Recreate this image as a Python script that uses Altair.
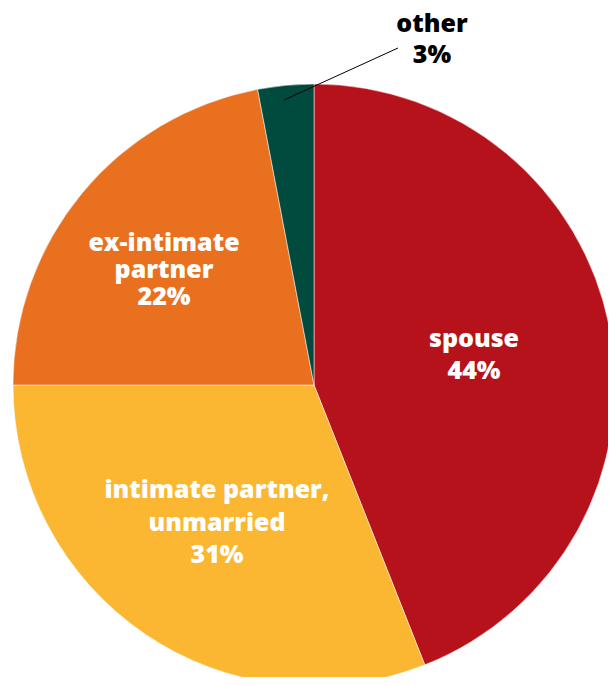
import altair as alt
import pandas as pd

categories = ["spouse", "intimate partner, unmarried", "ex-intimate partner", "other"]
values = [44, 31, 22, 3]
colors = ["#B5121B", "#FBB731", "#E8701F", "#004B3D"]

df = pd.DataFrame({"category": categories, "value": values, "order": list(range(len(categories)))})

FONT = "Open Sans"

pie = alt.Chart(df).mark_arc(outerRadius=301, stroke="white", strokeWidth=0.5).encode(
    theta=alt.Theta("value:Q", stack=True),
    order=alt.Order("order:Q"),
    color=alt.Color("category:N", scale=alt.Scale(domain=categories, range=colors), legend=None),
    x=alt.value(306),
    y=alt.value(377),
)

def label(text, x, y, lh, color="white"):
    return alt.Chart(pd.DataFrame({"t": [text]})).mark_text(
        font=FONT, fontSize=25, fontWeight=800, color=color,
        align="center", baseline="middle", lineBreak="\n", lineHeight=lh,
    ).encode(text="t:N", x=alt.value(x), y=alt.value(y))

lab_spouse = label(f"spouse\n{values[0]}%", 466, 331, 32)
lab_ip = label(f"intimate partner,\nunmarried\n{values[1]}%", 209, 482, 32.5)
lab_ex = label(f"ex-intimate\npartner\n{values[2]}%", 156, 235, 27)
lab_other = label(f"other\n{values[3]}%", 424, 16, 31, color="black")

leader = alt.Chart(pd.DataFrame({"a": [0]})).mark_rule(color="black", strokeWidth=1).encode(
    x=alt.value(276), y=alt.value(92), x2=alt.value(390), y2=alt.value(40)
)

chart = alt.layer(pie, leader, lab_spouse, lab_ip, lab_ex, lab_other).properties(
    width=600, height=669, padding=0,
    autosize=alt.AutoSizeParams(type="none"),
).configure_view(stroke=None)

chart.save("out.html", embed_options={"renderer": "svg", "actions": False})
